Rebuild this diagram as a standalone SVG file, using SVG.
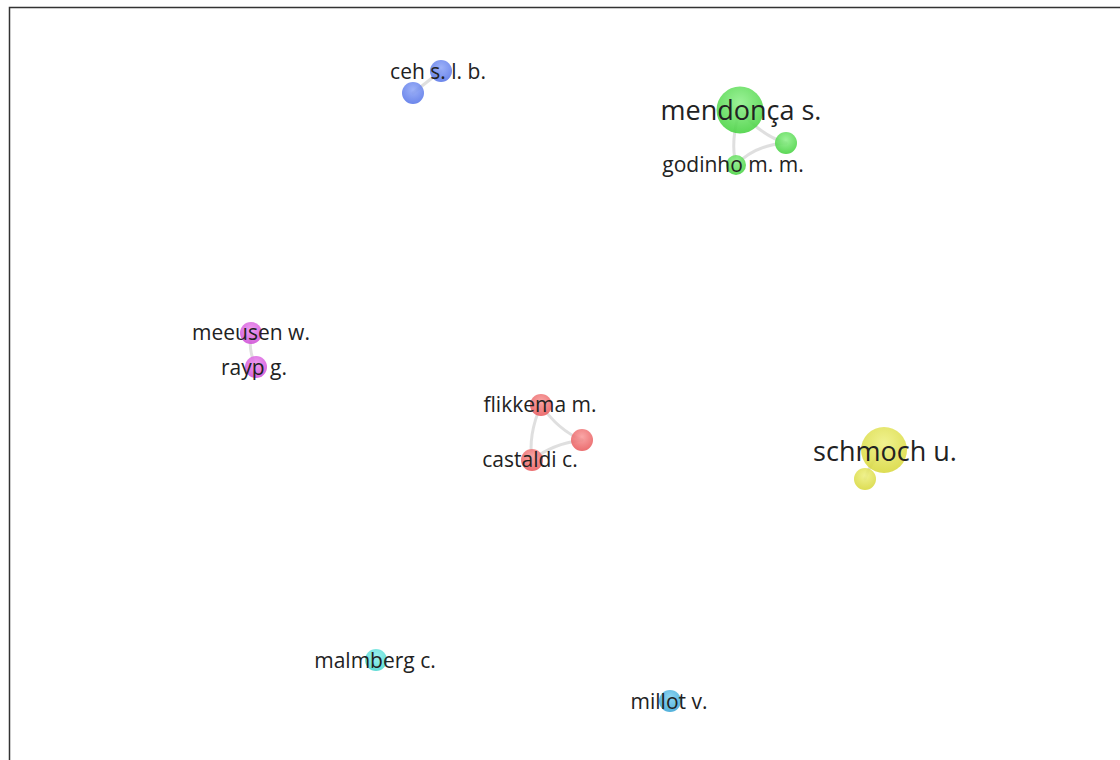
<svg xmlns="http://www.w3.org/2000/svg" width="1120" height="760" viewBox="0 0 1120 760">
<defs>
<radialGradient id="gBlue" cx="50%" cy="35%" r="65%"><stop offset="0" stop-color="#8fa6f7"/><stop offset="1" stop-color="#5876e8"/></radialGradient>
<radialGradient id="gGreen" cx="50%" cy="35%" r="65%"><stop offset="0" stop-color="#8ef08a"/><stop offset="1" stop-color="#46d240"/></radialGradient>
<radialGradient id="gMag" cx="50%" cy="35%" r="65%"><stop offset="0" stop-color="#ec8ef0"/><stop offset="1" stop-color="#cf4ed6"/></radialGradient>
<radialGradient id="gRed" cx="50%" cy="35%" r="65%"><stop offset="0" stop-color="#f99a9a"/><stop offset="1" stop-color="#e85a5c"/></radialGradient>
<radialGradient id="gYel" cx="50%" cy="35%" r="65%"><stop offset="0" stop-color="#eef080"/><stop offset="1" stop-color="#d8d83c"/></radialGradient>
<radialGradient id="gCyan" cx="50%" cy="35%" r="65%"><stop offset="0" stop-color="#8ff0ea"/><stop offset="1" stop-color="#4ad6d0"/></radialGradient>
<radialGradient id="gSky" cx="50%" cy="35%" r="65%"><stop offset="0" stop-color="#7fd0f0"/><stop offset="1" stop-color="#3aa6d6"/></radialGradient>
</defs>
<style>
.lbl{font-family:"Open Sans","Noto Sans",sans-serif;fill:#222;text-anchor:middle;dominant-baseline:central}
.s{font-size:21px}
.b{font-size:27px}
.e{fill:none;stroke:#d4d4d4;stroke-width:3;stroke-opacity:0.75;stroke-linecap:round}
.n{fill-opacity:0.88}
</style>
<rect width="1120" height="760" fill="#fff"/>
<path d="M9.5 760 V7.5 H1120" fill="none" stroke="#333" stroke-width="1.5"/>
<g id="connectors">
<path class="e" d="M441 71 L413 93"/>
<path class="e" d="M740 110 Q760 135 786 143"/>
<path class="e" d="M740 110 Q730 140 736 165"/>
<path class="e" d="M786 143 Q755 145 736 165"/>
<path class="e" d="M251 333 Q248 350 256 367"/>
<path class="e" d="M541 405 Q558 430 582 440"/>
<path class="e" d="M541 405 Q528 435 532 460"/>
<path class="e" d="M582 440 Q552 444 532 460"/>
<path class="e" d="M884 450 Q870 462 865 479"/>
</g>
<g id="node-ceh-s-l-b"><circle class="n" cx="441" cy="71" r="11" fill="url(#gBlue)"/></g>
<g id="node-blue-2"><circle class="n" cx="413" cy="93" r="11" fill="url(#gBlue)"/></g>
<g id="node-mendonca-s"><circle class="n" cx="740" cy="110" r="23.5" fill="url(#gGreen)"/></g>
<g id="node-green-2"><circle class="n" cx="786" cy="143" r="11" fill="url(#gGreen)"/></g>
<g id="node-godinho-m-m"><circle class="n" cx="736" cy="165" r="10" fill="url(#gGreen)"/></g>
<g id="node-meeusen-w"><circle class="n" cx="251" cy="333" r="11" fill="url(#gMag)"/></g>
<g id="node-rayp-g"><circle class="n" cx="256" cy="367" r="11" fill="url(#gMag)"/></g>
<g id="node-flikkema-m"><circle class="n" cx="541" cy="405" r="11" fill="url(#gRed)"/></g>
<g id="node-red-2"><circle class="n" cx="582" cy="440" r="11" fill="url(#gRed)"/></g>
<g id="node-castaldi-c"><circle class="n" cx="532" cy="460" r="11" fill="url(#gRed)"/></g>
<g id="node-schmoch-u"><circle class="n" cx="884" cy="450" r="23" fill="url(#gYel)"/></g>
<g id="node-yellow-2"><circle class="n" cx="865" cy="479" r="11" fill="url(#gYel)"/></g>
<g id="node-malmberg-c"><circle class="n" cx="376" cy="660" r="11" fill="url(#gCyan)"/></g>
<g id="node-millot-v"><circle class="n" cx="670" cy="701" r="11" fill="url(#gSky)"/></g>
<g id="labels">
<text class="lbl s" x="438" y="71">ceh s. l. b.</text>
<text class="lbl b" x="741" y="109">mendonça s.</text>
<text class="lbl s" x="733" y="164">godinho m. m.</text>
<text class="lbl s" x="251" y="332">meeusen w.</text>
<text class="lbl s" x="254" y="367">rayp g.</text>
<text class="lbl s" x="540" y="404">flikkema m.</text>
<text class="lbl s" x="530" y="459">castaldi c.</text>
<text class="lbl b" x="885" y="450">schmoch u.</text>
<text class="lbl s" x="375" y="660">malmberg c.</text>
<text class="lbl s" x="669" y="701">millot v.</text>
</g>
</svg>
